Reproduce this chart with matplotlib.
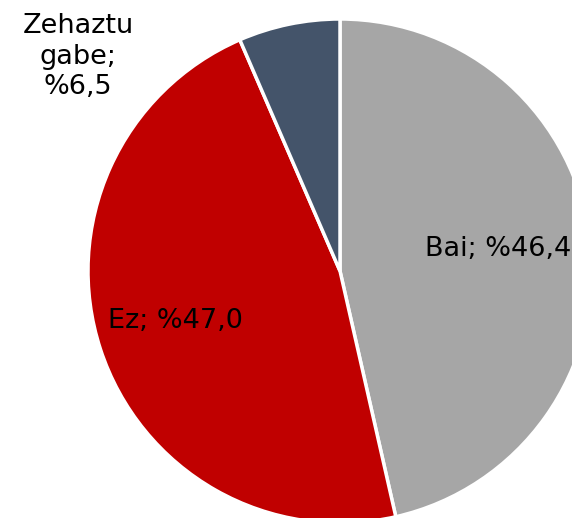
import matplotlib.pyplot as plt

labels = ["Bai", "Ez", "Zehaztu gabe"]
values = [46.4, 47.0, 6.5]
colors = ["#A6A6A6", "#C00000", "#44546A"]

# label text and where it sits (data coords, radius = 1)
label_text = ["Bai; %46,4", "Ez; %47,0", "Zehaztu\ngabe;\n%6,5"]
label_pos = [(0.337, 0.088, "left"), (-0.655, -0.2, "center"), (-1.04, 0.85, "center")]

fig = plt.figure(figsize=(5.72, 5.18), dpi=100)
ax = fig.add_axes([0, 0, 1, 1])

ax.pie(values, colors=colors, startangle=90, counterclock=False,
       wedgeprops=dict(edgecolor="white", linewidth=2.5))

for txt, (x, y, ha) in zip(label_text, label_pos):
    ax.text(x, y, txt, ha=ha, va="center", fontsize=19.5,
            color="black", linespacing=1.22)

ax.set_xlim(-340 / 252, 232 / 252)
ax.set_ylim(-247 / 252, 271 / 252)
ax.set_aspect("auto")
ax.axis("off")

fig.savefig("out.png", dpi=100)
